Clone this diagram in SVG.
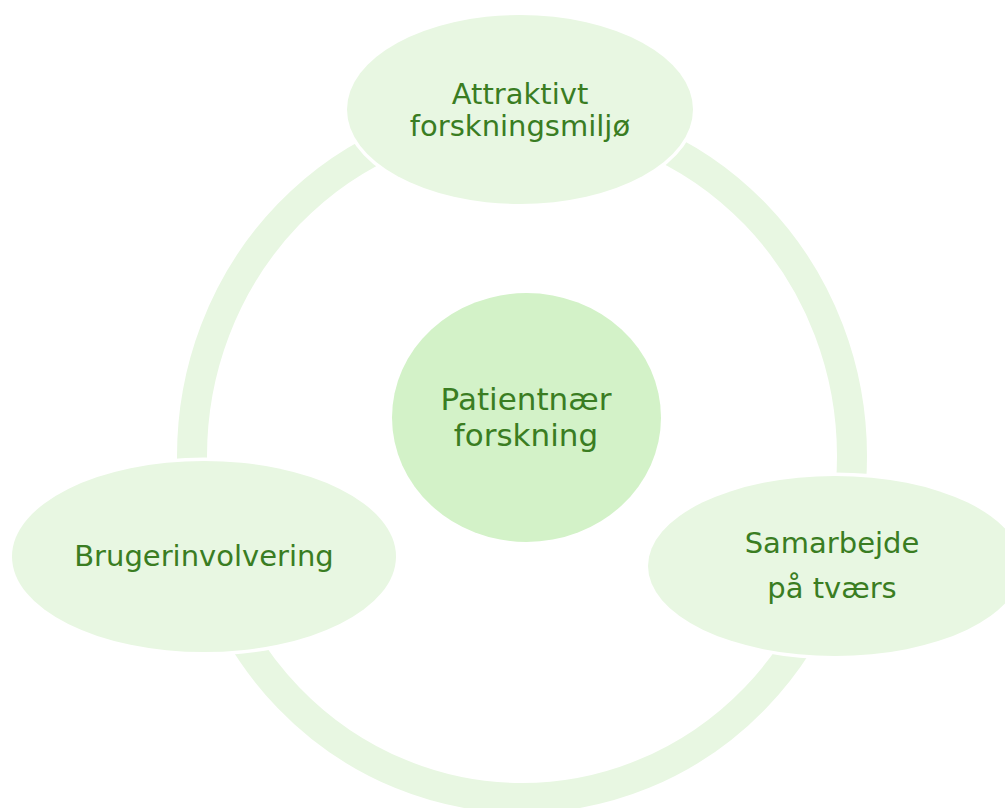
<svg xmlns="http://www.w3.org/2000/svg" width="1005" height="808" viewBox="0 0 1005 808">
  <style>
    .outer { fill: #E8F7E2; stroke: #FFFFFF; stroke-width: 7; paint-order: stroke; }
    .center { fill: #D3F2C8; }
    .ring { fill: none; stroke: #E8F7E2; stroke-width: 30; }
    .label { font-family: "DejaVu Sans", Verdana, sans-serif; font-size: 29px; fill: #3A7D22; text-anchor: middle; }
  </style>
  <rect width="1005" height="808" fill="#FFFFFF"/>
  <g id="connectors">
    <ellipse class="ring" cx="522" cy="456" rx="330" ry="342"/>
  </g>
  <g id="node-center">
    <ellipse class="center" cx="526.5" cy="417.5" rx="134.5" ry="124.5"/>
    <text class="label" style="font-size:31px" x="526" y="410">Patientnær</text>
    <text class="label" style="font-size:31px" x="526" y="446">forskning</text>
  </g>
  <g id="node-top">
    <ellipse class="outer" cx="520" cy="109.5" rx="173" ry="94.5"/>
    <text class="label" x="520" y="104">Attraktivt</text>
    <text class="label" x="520" y="136">forskningsmiljø</text>
  </g>
  <g id="node-right">
    <ellipse class="outer" cx="835" cy="566" rx="187" ry="90"/>
    <text class="label" x="832" y="553">Samarbejde</text>
    <text class="label" x="832" y="598">på tværs</text>
  </g>
  <g id="node-left">
    <ellipse class="outer" cx="204" cy="556.5" rx="192" ry="95.5"/>
    <text class="label" x="204" y="566">Brugerinvolvering</text>
  </g>
</svg>
